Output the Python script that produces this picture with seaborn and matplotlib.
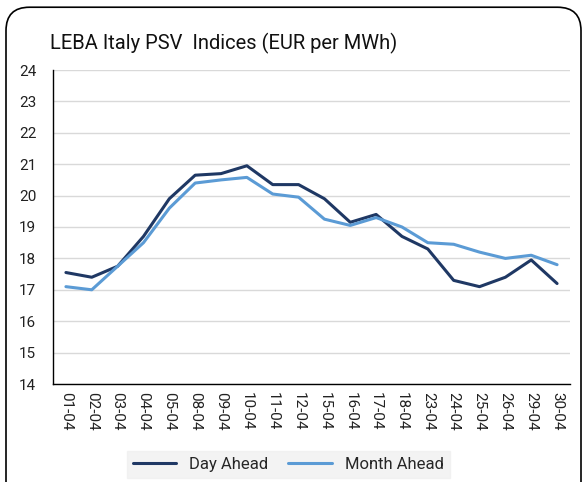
import matplotlib
matplotlib.use("Agg")
import matplotlib.pyplot as plt
from matplotlib.patches import FancyBboxPatch
import seaborn as sns
import pandas as pd

dates = ["01-04", "02-04", "03-04", "04-04", "05-04", "08-04", "09-04", "10-04",
         "11-04", "12-04", "15-04", "16-04", "17-04", "18-04", "23-04", "24-04",
         "25-04", "26-04", "29-04", "30-04"]
day_ahead = [17.55, 17.4, 17.75, 18.7, 19.9, 20.65, 20.7, 20.95, 20.35, 20.35,
             19.9, 19.15, 19.4, 18.7, 18.3, 17.3, 17.1, 17.4, 17.95, 17.2]
month_ahead = [17.1, 17.0, 17.75, 18.5, 19.6, 20.4, 20.5, 20.58, 20.05, 19.95,
               19.25, 19.05, 19.3, 19.0, 18.5, 18.45, 18.2, 18.0, 18.1, 17.8]

df = pd.DataFrame({"date": dates * 2,
                   "value": day_ahead + month_ahead,
                   "series": ["Day Ahead"] * len(dates) + ["Month Ahead"] * len(dates)})

sns.set_style("white")
plt.rcParams['font.family'] = ['Roboto', 'DejaVu Sans']

fig = plt.figure(figsize=(5.86, 4.82), dpi=100)
ax = fig.add_axes([53 / 586, 1 - 384 / 482, (570 - 53) / 586, (384 - 70) / 482])

sns.lineplot(data=df, x="date", y="value", hue="series", sort=False,
             palette={"Day Ahead": "#1f3864", "Month Ahead": "#5b9bd5"},
             linewidth=2.2, ax=ax)

ax.set_ylim(14, 24)
ax.set_yticks(range(14, 25))
ax.set_xlim(-0.5, len(dates) - 0.5)
ax.set_xlabel("")
ax.set_ylabel("")
ax.yaxis.grid(True, color="#d9d9d9", linewidth=1)
ax.set_axisbelow(True)
for s in ["top", "right"]:
    ax.spines[s].set_visible(False)
ax.spines["left"].set_color("black")
ax.spines["bottom"].set_color("black")
ax.spines["left"].set_linewidth(1)
ax.spines["bottom"].set_linewidth(1)
ax.tick_params(axis="x", rotation=270, labelsize=11, colors="#222222", length=0, pad=6)
ax.tick_params(axis="y", labelsize=11, colors="#222222", length=0, pad=12)
for lbl in ax.get_xticklabels():
    lbl.set_va("top")

ax.set_title("LEBA Italy PSV  Indices (EUR per MWh)", fontsize=14.5, loc="left",
             x=-0.006, y=1.04, color="#111111")

leg = ax.legend(loc="upper center", bbox_to_anchor=(0.455, -0.188), ncol=2,
                frameon=True, fontsize=12, handlelength=2.6, columnspacing=1.2,
                borderpad=0.35, fancybox=False)
leg.get_frame().set_facecolor("#f0f0f0")
leg.get_frame().set_edgecolor("#f0f0f0")
for line in leg.get_lines():
    line.set_linewidth(2.2)

frame = FancyBboxPatch((6 / 586, -0.05), 575 / 586, 1.035, transform=fig.transFigure,
                       boxstyle="round,pad=0,rounding_size=0.04",
                       facecolor="none", edgecolor="black", linewidth=1.2,
                       mutation_aspect=586 / 482)
fig.patches.append(frame)

fig.savefig("out.png", dpi=100)
